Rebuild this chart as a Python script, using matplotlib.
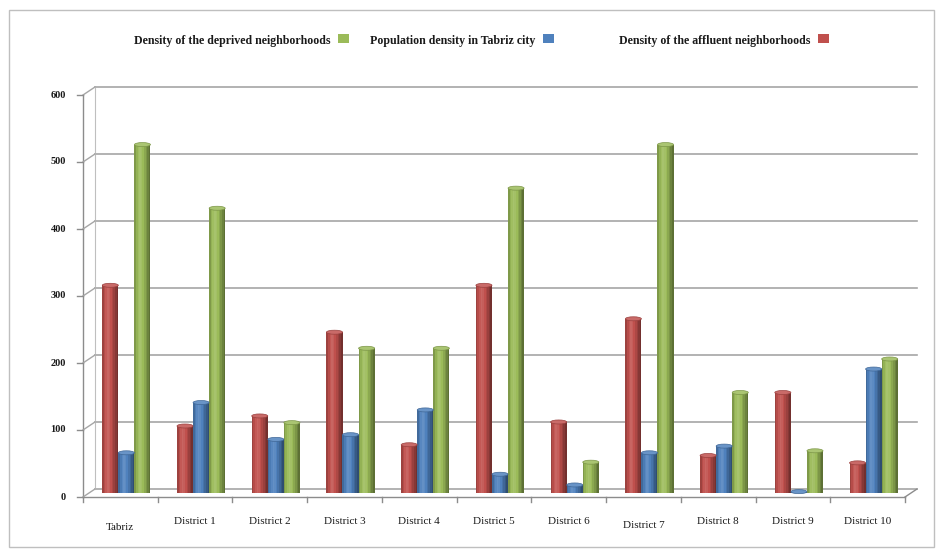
import numpy as np
import matplotlib
matplotlib.use("Agg")
import matplotlib.pyplot as plt
from matplotlib import transforms
from matplotlib.patches import Rectangle, Ellipse
from matplotlib.colors import to_rgb

categories = ["Tabriz", "District 1", "District 2", "District 3", "District 4", "District 5",
              "District 6", "District 7", "District 8", "District 9", "District 10"]
affluent = [310, 100, 115, 240, 72, 310, 106, 260, 56, 150, 45]
population = [60, 135, 80, 87, 124, 28, 12, 60, 70, 2, 185]
deprived = [520, 425, 105, 216, 216, 455, 46, 520, 150, 63, 200]
yticks = [0, 100, 200, 300, 400, 500, 600]

series = [
    ("Density of the affluent neighborhoods", affluent, "#C0504D"),
    ("Population density in Tabriz city", population, "#4F81BD"),
    ("Density of the deprived neighborhoods", deprived, "#9BBB59"),
]

W, H = 942, 553
fig = plt.figure(figsize=(W / 100, H / 100), dpi=100)
fig.patch.set_facecolor("white")

# chart border
fig.patches.append(Rectangle((9 / W, 1 - 547 / H), 925 / W, 537 / H, transform=fig.transFigure,
                             fill=False, edgecolor="#BFBFBF", lw=1.0))

left, right, top, bottom = 83, 905, 95, 497
ax = fig.add_axes([left / W, 1 - bottom / H, (right - left) / W, (bottom - top) / H])
ax.set_xlim(-0.5, len(categories) - 0.5)
ax.set_ylim(0, 600)
ax.axis("off")

serif = "Liberation Serif"
back = transforms.offset_copy(ax.transData, fig, x=12, y=8, units="dots")
mid = transforms.offset_copy(ax.transData, fig, x=6, y=4, units="dots")
xmin, xmax = -0.5, len(categories) - 0.5

# back wall gridlines and left wall diagonals
for t in yticks:
    ax.plot([xmin, xmax], [t, t], color="#A6A6A6", lw=1.2, transform=back, clip_on=False, zorder=1)
    p0 = ax.transData.transform((xmin, t))
    p1 = back.transform((xmin, t))
    fig.add_artist(plt.Line2D([p0[0] / W, p1[0] / W], [p0[1] / H, p1[1] / H],
                              color="#A6A6A6", lw=1.0, transform=fig.transFigure))
    fig.add_artist(plt.Line2D([(p0[0] - 6) / W, p0[0] / W], [p0[1] / H, p0[1] / H],
                              color="#8C8C8C", lw=1.0, transform=fig.transFigure))
    ax.text(xmin, t, str(t), transform=transforms.offset_copy(ax.transData, fig, x=-17, y=0, units="dots"),
            ha="right", va="center", fontsize=7.5, fontweight="bold", family=serif, color="#1A1A1A")

# left vertical axis (front) and back wall left edge
ax.plot([xmin, xmin], [0, 600], color="#8C8C8C", lw=1.0, clip_on=False)
ax.plot([xmin, xmin], [0, 600], color="#BFBFBF", lw=0.8, transform=back, clip_on=False)

# floor front edge and right diagonal
ax.plot([xmin, xmax], [0, 0], color="#8C8C8C", lw=1.0, clip_on=False)
q0 = ax.transData.transform((xmax, 0))
q1 = back.transform((xmax, 0))
fig.add_artist(plt.Line2D([q0[0] / W, q1[0] / W], [q0[1] / H, q1[1] / H], color="#8C8C8C", lw=1.0,
                          transform=fig.transFigure))
for i in range(len(categories) + 1):
    x = i - 0.5
    p = ax.transData.transform((x, 0))
    fig.add_artist(plt.Line2D([p[0] / W, p[0] / W], [p[1] / H, (p[1] - 5) / H], color="#8C8C8C", lw=1.0,
                              transform=fig.transFigure))


def shade(c, f):
    r, g, b = to_rgb(c)
    if f >= 1:
        return tuple(min(1, v + (1 - v) * (f - 1)) for v in (r, g, b))
    return tuple(v * f for v in (r, g, b))


bw = 0.215
nstrip = 10
profile = [0.82, 0.95, 1.05, 1.12, 1.08, 1.0, 0.9, 0.8, 0.7, 0.6]
x = np.arange(len(categories))
for k, (name, vals, col) in enumerate(series):
    xc = x + (k - 1) * bw
    sw = bw / nstrip
    for s in range(nstrip):
        ax.bar(xc - bw / 2 + (s + 0.5) * sw, vals, width=sw * 1.02, color=shade(col, profile[s]),
               lw=0, transform=mid, zorder=3)
    for xi, v in zip(xc, vals):
        ax.add_patch(Ellipse((xi, v), bw, 6, facecolor=shade(col, 1.15), edgecolor=shade(col, 0.8),
                             lw=0.5, transform=mid, zorder=4))

# category labels
for i, c in enumerate(categories):
    dy = -30 if i == 0 else (-28 if i == 7 else -25)
    ax.text(i, 0, c, transform=transforms.offset_copy(ax.transData, fig, x=0, y=dy, units="dots"),
            ha="center", va="center", fontsize=8, family=serif, color="#1A1A1A")

# legend (text followed by square marker)
leg = [("Density of the deprived neighborhoods", "#9BBB59", 330),
       ("Population density in Tabriz city", "#4F81BD", 535),
       ("Density of the affluent neighborhoods", "#C0504D", 810)]
ly = 1 - 41 / H
for txt, col, xe in leg:
    fig.text(xe / W, ly, txt, ha="right", va="center", fontsize=8.6, fontweight="bold",
             family=serif, color="#1A1A1A")
    fig.patches.append(Rectangle(((xe + 8) / W, ly - 2 / H), 11 / W, 9 / H, transform=fig.transFigure,
                                 facecolor=col, edgecolor="none"))

fig.savefig("out.png", dpi=100)
